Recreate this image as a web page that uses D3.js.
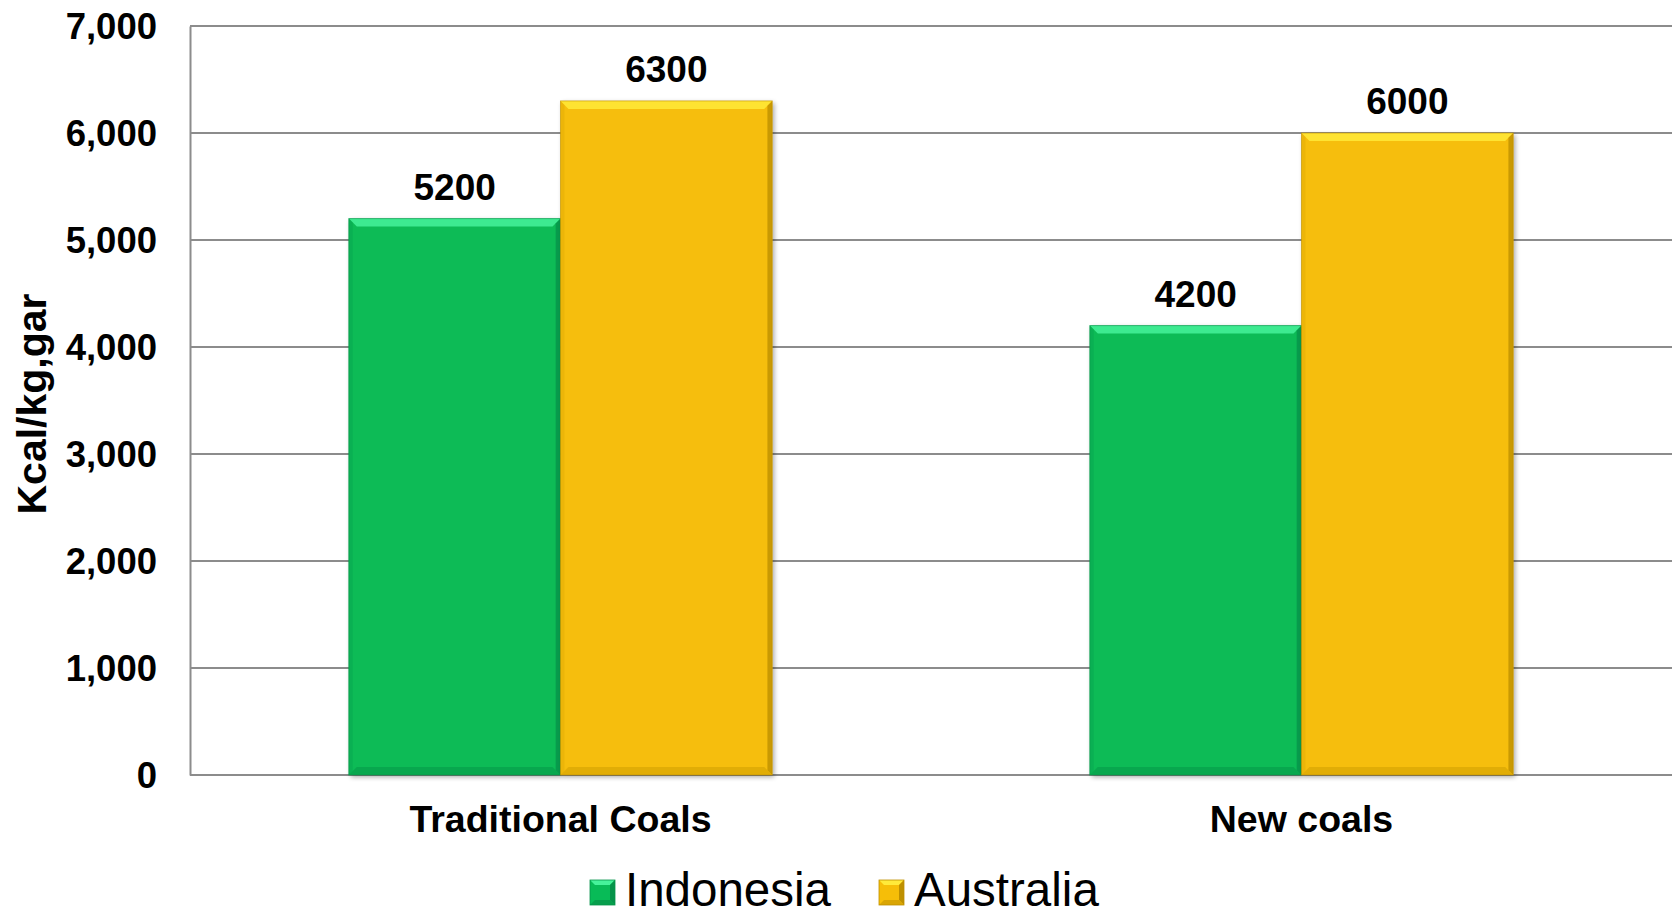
<!DOCTYPE html>
<html>
<head>
<meta charset="utf-8">
<script src="https://cdn.jsdelivr.net/npm/d3@7"></script>
<style>
  html, body { margin: 0; padding: 0; background: #fff; }
  svg { display: block; font-family: "Liberation Sans", Arial, sans-serif; }
</style>
</head>
<body>
<svg id="chart" width="1677" height="910"></svg>
<script>
// Calorific value of coal by type and origin
const categories = ["Traditional Coals", "New coals"];
const seriesNames = ["Indonesia", "Australia"];
const indonesia = [5200, 4200];
const australia = [6300, 6000];
const yTicks = [0, 1000, 2000, 3000, 4000, 5000, 6000, 7000];
const yTitle = "Kcal/kg,gar";

const seriesValues = [indonesia, australia];
const colors = {
  Indonesia: { base: "#08BB57", light: "#46F29A", dark: "#06934A", side: "#079E4C" },
  Australia: { base: "#F6BE08", light: "#FFEA3A", dark: "#BE9000", side: "#D9A504" }
};

const svg = d3.select("#chart");
const margin = { left: 190, right: 1672, top: 26, bottom: 775 };

const x0 = d3.scaleBand().domain(categories).range([margin.left, margin.right]).padding(0);
const x1 = d3.scaleBand().domain(seriesNames).range([0, x0.bandwidth()])
  .paddingInner(0).paddingOuter(0.75);
const y = d3.scaleLinear().domain([0, 7000]).range([margin.bottom, margin.top]);

// soft drop shadow for the bars
const defs = svg.append("defs");
const shadow = defs.append("filter").attr("id", "shadow")
  .attr("x", "-10%").attr("y", "-10%").attr("width", "130%").attr("height", "130%");
shadow.append("feGaussianBlur").attr("in", "SourceAlpha").attr("stdDeviation", 2.5).attr("result", "b");
shadow.append("feOffset").attr("in", "b").attr("dx", 2).attr("dy", 2).attr("result", "o");
shadow.append("feComponentTransfer").attr("in", "o").attr("result", "s")
  .append("feFuncA").attr("type", "linear").attr("slope", 0.35);
const merge = shadow.append("feMerge");
merge.append("feMergeNode").attr("in", "s");
merge.append("feMergeNode").attr("in", "SourceGraphic");

// gridlines
svg.append("g")
  .selectAll("line")
  .data(yTicks.filter(t => t > 0))
  .join("line")
  .attr("x1", margin.left).attr("x2", margin.right)
  .attr("y1", d => y(d)).attr("y2", d => y(d))
  .attr("stroke", "#8C8C8C").attr("stroke-width", 2);

// left axis
const yAxis = d3.axisLeft(y).tickValues(yTicks).tickFormat(d3.format(",")).tickSize(0).tickPadding(33);
const gy = svg.append("g").attr("transform", `translate(${margin.left},0)`).call(yAxis);
gy.select(".domain").attr("stroke", "#8C8C8C").attr("stroke-width", 2);
gy.selectAll("text")
  .attr("font-family", "'Liberation Sans', Arial, sans-serif")
  .attr("font-size", 36.5).attr("font-weight", "bold").attr("fill", "#000")
  .attr("dy", "0.35em");

// bottom axis line
svg.append("line")
  .attr("x1", margin.left).attr("x2", margin.right)
  .attr("y1", y(0)).attr("y2", y(0))
  .attr("stroke", "#8C8C8C").attr("stroke-width", 2);

// bars with a bevelled edge
const bevel = 8;
const barData = [];
categories.forEach((c, i) => {
  seriesNames.forEach((s, j) => {
    barData.push({ cat: c, series: s, value: seriesValues[j][i] });
  });
});

const bars = svg.append("g").selectAll("g.bar")
  .data(barData)
  .join("g")
  .attr("class", "bar");

bars.each(function (d) {
  const g = d3.select(this);
  const x = x0(d.cat) + x1(d.series);
  const w = x1.bandwidth();
  const yt = y(d.value);
  const yb = y(0);
  const c = colors[d.series];
  g.append("rect")
    .attr("x", x).attr("y", yt).attr("width", w).attr("height", yb - yt)
    .attr("fill", c.base).attr("filter", "url(#shadow)");
  const poly = pts => g.append("polygon").attr("points", pts.map(p => p.join(",")).join(" "));
  // top facet
  poly([[x, yt], [x + w, yt], [x + w - bevel, yt + bevel], [x + bevel, yt + bevel]])
    .attr("fill", c.light).attr("opacity", 0.85);
  // right facet
  poly([[x + w, yt], [x + w, yb], [x + w - bevel * 0.6, yb - bevel * 0.6], [x + w - bevel * 0.6, yt + bevel * 0.6]])
    .attr("fill", c.dark).attr("opacity", 0.8);
  // bottom facet
  poly([[x, yb], [x + w, yb], [x + w - bevel, yb - bevel], [x + bevel, yb - bevel]])
    .attr("fill", c.side).attr("opacity", 0.7);
  // left facet
  poly([[x, yt], [x + bevel * 0.5, yt + bevel * 0.5], [x + bevel * 0.5, yb - bevel * 0.5], [x, yb]])
    .attr("fill", c.side).attr("opacity", 0.35);
  // thin outline
  g.append("rect")
    .attr("x", x).attr("y", yt).attr("width", w).attr("height", yb - yt)
    .attr("fill", "none").attr("stroke", c.dark).attr("stroke-width", 1).attr("opacity", 0.6);
});

// value labels
svg.append("g").selectAll("text")
  .data(barData)
  .join("text")
  .attr("x", d => x0(d.cat) + x1(d.series) + x1.bandwidth() / 2)
  .attr("y", d => y(d.value) - 19)
  .attr("text-anchor", "middle")
  .attr("font-size", 37).attr("font-weight", "bold").attr("fill", "#000")
  .text(d => d.value);

// category labels
svg.append("g").selectAll("text")
  .data(categories)
  .join("text")
  .attr("x", d => x0(d) + x0.bandwidth() / 2)
  .attr("y", 832)
  .attr("text-anchor", "middle")
  .attr("font-size", 37.5).attr("font-weight", "bold").attr("fill", "#000")
  .text(d => d);

// y-axis title
svg.append("text")
  .attr("transform", `translate(46,404) rotate(-90)`)
  .attr("text-anchor", "middle")
  .attr("font-size", 41).attr("font-weight", "bold").attr("fill", "#000")
  .text(yTitle);

// legend
const legendX = [590, 879];
const legend = svg.append("g").selectAll("g")
  .data(seriesNames)
  .join("g")
  .attr("transform", (d, i) => `translate(${legendX[i]},880)`);
legend.each(function (d) {
  const g = d3.select(this);
  const c = colors[d];
  const s = 25, b = 5;
  g.append("rect").attr("width", s).attr("height", s).attr("fill", c.base);
  const poly = pts => g.append("polygon").attr("points", pts.map(p => p.join(",")).join(" "));
  poly([[0, 0], [s, 0], [s - b, b], [b, b]]).attr("fill", c.light);
  poly([[s, 0], [s, s], [s - b, s - b], [s - b, b]]).attr("fill", c.dark);
  poly([[0, s], [s, s], [s - b, s - b], [b, s - b]]).attr("fill", c.side);
  g.append("rect").attr("width", s).attr("height", s).attr("fill", "none")
    .attr("stroke", c.dark).attr("stroke-width", 0.8);
  g.append("text")
    .attr("x", 35).attr("y", 26)
    .attr("font-size", 47.5).attr("fill", "#000")
    .text(d);
});
</script>
</body>
</html>
